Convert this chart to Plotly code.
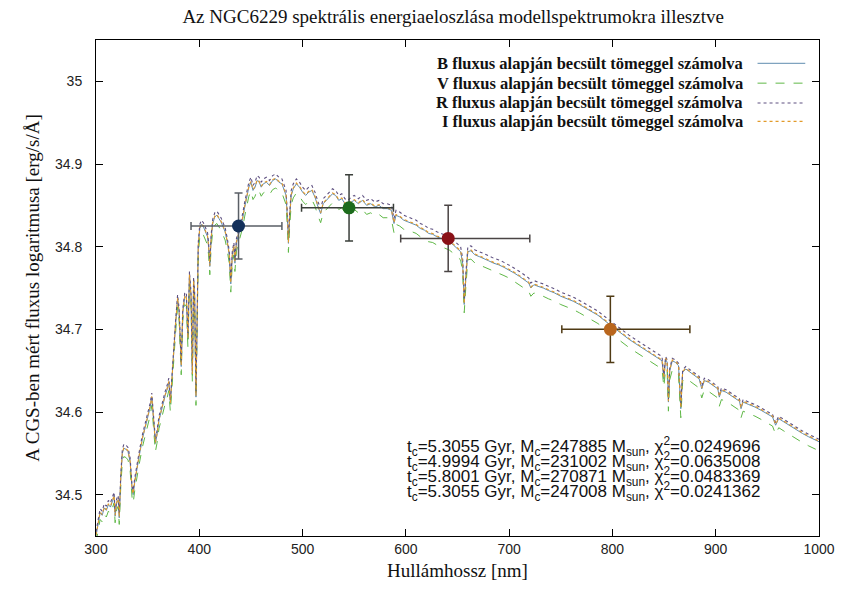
import plotly.graph_objects as go

# Model spectra: wavelength grid [nm] and log flux [erg/s/Å] for the four fitted masses
wavelength = [
    300, 302, 304, 306, 308, 310, 312, 314, 316, 317.5,
    318.5, 320, 321.5, 322.5, 324, 325.5, 327, 329, 331, 333,
    335, 336, 337.5, 340, 342, 345, 347, 349, 351, 352.5,
    354, 355.5, 357.5, 359, 361, 363, 365, 367, 369, 370.5,
    372, 373.5, 375, 377, 379, 380.5, 382.5, 384, 386, 387.5,
    389, 390.5, 392, 393.3, 394.5, 395.5, 396.8, 398, 399, 400.5,
    402, 404, 406, 408, 409, 410.2, 411.5, 413, 415, 417,
    419, 421, 423, 425, 427, 429, 430.5, 432, 433.5, 434.5,
    436, 438, 440, 442, 444, 446, 448, 450, 452, 454,
    456, 458, 460, 462, 465, 468, 471, 474, 477, 480,
    482, 484, 485.5, 486.3, 487.5, 489, 491, 494, 497, 500,
    503, 506, 509, 512, 515, 517.5, 520, 523, 526, 529,
    532, 535, 538, 541, 544, 547, 550, 554, 558, 562,
    566, 570, 574, 578, 582, 586, 588.5, 590.5, 594, 598,
    602, 606, 610, 614, 618, 622, 626, 630, 634, 638,
    642, 646, 650, 653, 655, 656.5, 658, 660, 663, 667,
    671, 675, 680, 685, 690, 695, 700, 705, 710, 715,
    719, 721, 724, 728, 733, 738, 744, 750, 756, 762,
    768, 774, 780, 786, 792, 798, 804, 810, 816, 822,
    828, 834, 840, 845, 848, 849.8, 851.5, 853, 854.2, 855.5,
    858, 861, 864, 866.2, 868, 871, 875, 880, 884, 886.5,
    889, 893, 898, 902, 903.5, 905.5, 910, 915, 920, 923,
    924.5, 926.5, 932, 938, 944, 950, 955, 958, 961, 966,
    972, 978, 984, 990, 995, 1000,
]

flux_B = [
    34.450, 34.462, 34.478, 34.475, 34.484, 34.481, 34.488, 34.485, 34.494, 34.498,
    34.474, 34.490, 34.494, 34.472, 34.520, 34.550, 34.556, 34.555, 34.552, 34.540,
    34.505, 34.500, 34.515, 34.535, 34.548, 34.568, 34.578, 34.586, 34.598, 34.606,
    34.618, 34.596, 34.562, 34.572, 34.590, 34.600, 34.612, 34.620, 34.628, 34.636,
    34.610, 34.640, 34.672, 34.705, 34.737, 34.720, 34.655, 34.720, 34.740, 34.738,
    34.688, 34.765, 34.740, 34.645, 34.758, 34.740, 34.618, 34.760, 34.800, 34.822,
    34.827, 34.824, 34.818, 34.812, 34.800, 34.776, 34.810, 34.828, 34.836, 34.838,
    34.834, 34.830, 34.824, 34.818, 34.806, 34.790, 34.755, 34.790, 34.800, 34.780,
    34.805, 34.815, 34.826, 34.834, 34.848, 34.860, 34.872, 34.878, 34.868, 34.872,
    34.880, 34.878, 34.872, 34.876, 34.878, 34.874, 34.880, 34.882, 34.878, 34.876,
    34.870, 34.862, 34.830, 34.804, 34.835, 34.862, 34.870, 34.876, 34.872, 34.866,
    34.862, 34.866, 34.868, 34.860, 34.848, 34.840, 34.852, 34.856, 34.860, 34.864,
    34.862, 34.856, 34.858, 34.852, 34.850, 34.854, 34.856, 34.852, 34.856, 34.850,
    34.852, 34.848, 34.850, 34.846, 34.846, 34.844, 34.828, 34.838, 34.836, 34.832,
    34.830, 34.828, 34.826, 34.822, 34.820, 34.816, 34.815, 34.812, 34.810, 34.808,
    34.806, 34.802, 34.798, 34.794, 34.780, 34.730, 34.760, 34.794, 34.795, 34.790,
    34.788, 34.786, 34.783, 34.780, 34.778, 34.775, 34.772, 34.768, 34.764, 34.760,
    34.756, 34.750, 34.754, 34.752, 34.750, 34.747, 34.744, 34.740, 34.737, 34.734,
    34.730, 34.726, 34.721, 34.717, 34.711, 34.705, 34.699, 34.693, 34.688, 34.683,
    34.678, 34.674, 34.668, 34.664, 34.662, 34.640, 34.664, 34.660, 34.612, 34.650,
    34.662, 34.660, 34.656, 34.604, 34.648, 34.652, 34.648, 34.644, 34.640, 34.628,
    34.638, 34.636, 34.632, 34.628, 34.618, 34.626, 34.624, 34.620, 34.616, 34.613,
    34.604, 34.612, 34.609, 34.606, 34.602, 34.598, 34.594, 34.584, 34.592, 34.588,
    34.583, 34.579, 34.574, 34.570, 34.567, 34.564,
]

flux_V = [
    34.442, 34.454, 34.470, 34.467, 34.476, 34.473, 34.480, 34.477, 34.486, 34.490,
    34.466, 34.482, 34.486, 34.464, 34.510, 34.540, 34.546, 34.545, 34.542, 34.530,
    34.495, 34.490, 34.505, 34.525, 34.538, 34.558, 34.568, 34.576, 34.588, 34.596,
    34.608, 34.586, 34.552, 34.562, 34.580, 34.590, 34.602, 34.610, 34.618, 34.626,
    34.600, 34.630, 34.662, 34.695, 34.727, 34.710, 34.645, 34.710, 34.730, 34.728,
    34.678, 34.755, 34.730, 34.635, 34.748, 34.730, 34.608, 34.750, 34.790, 34.812,
    34.817, 34.814, 34.808, 34.802, 34.790, 34.766, 34.800, 34.818, 34.826, 34.828,
    34.824, 34.820, 34.814, 34.808, 34.796, 34.780, 34.745, 34.780, 34.790, 34.770,
    34.795, 34.805, 34.816, 34.823, 34.837, 34.849, 34.861, 34.867, 34.857, 34.861,
    34.869, 34.867, 34.861, 34.865, 34.867, 34.863, 34.869, 34.871, 34.867, 34.865,
    34.859, 34.851, 34.819, 34.793, 34.824, 34.851, 34.859, 34.865, 34.861, 34.855,
    34.851, 34.855, 34.857, 34.849, 34.837, 34.829, 34.841, 34.845, 34.849, 34.853,
    34.851, 34.845, 34.847, 34.841, 34.839, 34.843, 34.845, 34.841, 34.845, 34.839,
    34.841, 34.837, 34.839, 34.835, 34.835, 34.833, 34.817, 34.827, 34.825, 34.821,
    34.820, 34.818, 34.816, 34.812, 34.810, 34.806, 34.805, 34.802, 34.800, 34.798,
    34.796, 34.792, 34.788, 34.784, 34.770, 34.720, 34.750, 34.784, 34.785, 34.780,
    34.778, 34.776, 34.773, 34.770, 34.768, 34.765, 34.762, 34.758, 34.754, 34.750,
    34.746, 34.740, 34.744, 34.742, 34.740, 34.737, 34.734, 34.730, 34.727, 34.724,
    34.720, 34.716, 34.711, 34.707, 34.701, 34.695, 34.689, 34.683, 34.678, 34.673,
    34.668, 34.664, 34.658, 34.654, 34.652, 34.630, 34.653, 34.649, 34.601, 34.639,
    34.651, 34.649, 34.645, 34.593, 34.637, 34.641, 34.637, 34.633, 34.629, 34.617,
    34.627, 34.625, 34.621, 34.617, 34.607, 34.615, 34.613, 34.609, 34.605, 34.602,
    34.593, 34.601, 34.598, 34.595, 34.591, 34.587, 34.583, 34.573, 34.581, 34.577,
    34.572, 34.568, 34.563, 34.559, 34.556, 34.553,
]

flux_R = [
    34.455, 34.467, 34.483, 34.480, 34.489, 34.486, 34.493, 34.490, 34.499, 34.503,
    34.479, 34.495, 34.499, 34.477, 34.525, 34.555, 34.561, 34.560, 34.557, 34.545,
    34.510, 34.505, 34.520, 34.540, 34.553, 34.573, 34.583, 34.591, 34.603, 34.611,
    34.623, 34.601, 34.567, 34.577, 34.595, 34.605, 34.617, 34.625, 34.633, 34.641,
    34.615, 34.645, 34.677, 34.710, 34.742, 34.725, 34.660, 34.725, 34.745, 34.743,
    34.693, 34.770, 34.745, 34.650, 34.763, 34.745, 34.623, 34.765, 34.805, 34.827,
    34.832, 34.829, 34.823, 34.817, 34.805, 34.781, 34.815, 34.833, 34.841, 34.843,
    34.839, 34.835, 34.829, 34.823, 34.811, 34.795, 34.760, 34.795, 34.805, 34.785,
    34.810, 34.820, 34.831, 34.840, 34.854, 34.866, 34.878, 34.884, 34.874, 34.878,
    34.886, 34.884, 34.878, 34.882, 34.884, 34.880, 34.886, 34.888, 34.884, 34.882,
    34.876, 34.868, 34.836, 34.810, 34.841, 34.868, 34.876, 34.882, 34.878, 34.872,
    34.868, 34.872, 34.874, 34.866, 34.854, 34.846, 34.858, 34.862, 34.866, 34.870,
    34.868, 34.862, 34.864, 34.858, 34.856, 34.860, 34.862, 34.858, 34.862, 34.856,
    34.858, 34.854, 34.856, 34.852, 34.852, 34.850, 34.834, 34.844, 34.842, 34.838,
    34.836, 34.834, 34.832, 34.828, 34.826, 34.822, 34.821, 34.818, 34.816, 34.814,
    34.812, 34.808, 34.804, 34.800, 34.786, 34.736, 34.766, 34.800, 34.801, 34.796,
    34.794, 34.792, 34.789, 34.786, 34.784, 34.781, 34.778, 34.774, 34.770, 34.766,
    34.762, 34.756, 34.759, 34.757, 34.755, 34.752, 34.749, 34.745, 34.742, 34.739,
    34.735, 34.731, 34.726, 34.722, 34.716, 34.710, 34.704, 34.698, 34.693, 34.688,
    34.683, 34.679, 34.673, 34.669, 34.667, 34.645, 34.667, 34.663, 34.615, 34.653,
    34.665, 34.663, 34.659, 34.607, 34.651, 34.655, 34.651, 34.647, 34.643, 34.631,
    34.641, 34.639, 34.635, 34.631, 34.621, 34.629, 34.627, 34.623, 34.619, 34.616,
    34.607, 34.615, 34.612, 34.609, 34.605, 34.601, 34.597, 34.587, 34.595, 34.591,
    34.586, 34.582, 34.577, 34.573, 34.570, 34.567,
]

flux_I = [
    34.451, 34.463, 34.479, 34.476, 34.485, 34.482, 34.489, 34.486, 34.495, 34.499,
    34.475, 34.491, 34.495, 34.473, 34.521, 34.551, 34.557, 34.556, 34.553, 34.541,
    34.506, 34.501, 34.516, 34.536, 34.549, 34.569, 34.579, 34.587, 34.599, 34.607,
    34.619, 34.597, 34.563, 34.573, 34.591, 34.601, 34.613, 34.621, 34.629, 34.637,
    34.611, 34.641, 34.673, 34.706, 34.738, 34.721, 34.656, 34.721, 34.741, 34.739,
    34.689, 34.766, 34.741, 34.646, 34.759, 34.741, 34.619, 34.761, 34.801, 34.823,
    34.828, 34.825, 34.819, 34.813, 34.801, 34.777, 34.811, 34.829, 34.837, 34.839,
    34.835, 34.831, 34.825, 34.819, 34.807, 34.791, 34.756, 34.791, 34.801, 34.781,
    34.806, 34.816, 34.827, 34.835, 34.849, 34.861, 34.873, 34.879, 34.869, 34.873,
    34.881, 34.879, 34.873, 34.877, 34.879, 34.875, 34.881, 34.883, 34.879, 34.877,
    34.871, 34.863, 34.831, 34.805, 34.836, 34.863, 34.871, 34.877, 34.873, 34.867,
    34.863, 34.867, 34.869, 34.861, 34.849, 34.841, 34.853, 34.857, 34.861, 34.865,
    34.863, 34.857, 34.859, 34.853, 34.851, 34.855, 34.857, 34.853, 34.857, 34.851,
    34.853, 34.849, 34.851, 34.847, 34.847, 34.845, 34.829, 34.839, 34.837, 34.833,
    34.831, 34.829, 34.827, 34.823, 34.821, 34.817, 34.816, 34.813, 34.811, 34.809,
    34.807, 34.803, 34.799, 34.795, 34.781, 34.731, 34.761, 34.795, 34.796, 34.791,
    34.789, 34.787, 34.784, 34.781, 34.779, 34.776, 34.773, 34.769, 34.765, 34.761,
    34.757, 34.751, 34.755, 34.753, 34.751, 34.748, 34.745, 34.741, 34.738, 34.735,
    34.731, 34.727, 34.722, 34.718, 34.712, 34.706, 34.700, 34.694, 34.689, 34.684,
    34.679, 34.675, 34.669, 34.665, 34.663, 34.641, 34.665, 34.661, 34.613, 34.651,
    34.663, 34.661, 34.657, 34.605, 34.649, 34.653, 34.649, 34.645, 34.641, 34.629,
    34.639, 34.637, 34.633, 34.629, 34.619, 34.627, 34.625, 34.621, 34.617, 34.614,
    34.605, 34.613, 34.610, 34.607, 34.603, 34.599, 34.595, 34.585, 34.593, 34.589,
    34.584, 34.580, 34.575, 34.571, 34.568, 34.565,
]

# Measured photometric points (BVRI) with filter widths and flux errors
band_wl = [438, 545, 641, 798]
band_flux = [34.825, 34.847, 34.810, 34.700]
band_flux_err = [0.040, 0.040, 0.040, 0.040]
band_wl_minus = [46, 46, 46, 47]
band_wl_plus = [42, 43, 79, 77]

legend_labels = [
    "B fluxus alapján becsült tömeggel számolva",
    "V fluxus alapján becsült tömeggel számolva",
    "R fluxus alapján becsült tömeggel számolva",
    "I fluxus alapján becsült tömeggel számolva",
]

fit_labels = [
    "t<sub>c</sub>=5.3055 Gyr, M<sub>c</sub>=247885 M<sub>sun</sub>, χ<sup>2</sup>=0.0249696",
    "t<sub>c</sub>=4.9994 Gyr, M<sub>c</sub>=231002 M<sub>sun</sub>, χ<sup>2</sup>=0.0635008",
    "t<sub>c</sub>=5.8001 Gyr, M<sub>c</sub>=270871 M<sub>sun</sub>, χ<sup>2</sup>=0.0483369",
    "t<sub>c</sub>=5.3055 Gyr, M<sub>c</sub>=247008 M<sub>sun</sub>, χ<sup>2</sup>=0.0241362",
]

x_ticks = [300, 400, 500, 600, 700, 800, 900, 1000]
y_ticks = [34.5, 34.6, 34.7, 34.8, 34.9, 35]

line_styles = [
    dict(color="#5f8db0", dash="solid", width=1),
    dict(color="#5fb846", dash="dash", width=1),
    dict(color="#5e5080", dash="dot", width=1.1),
    dict(color="#e29a2a", dash="dot", width=1.1),
]
point_colors = ["#13305a", "#1c6b1c", "#8a1117", "#b9661d"]
bar_colors = ["#5a5f66", "#3a3f3a", "#4a4444", "#4f3a14"]

serif = "Liberation Serif"
sans = "Liberation Sans"

fig = go.Figure()

for flux, style, name in zip([flux_B, flux_V, flux_R, flux_I], line_styles, legend_labels):
    fig.add_trace(go.Scatter(x=wavelength, y=flux, mode="lines", line=style,
                             name=name, showlegend=False))

for i in range(len(band_wl)):
    fig.add_trace(go.Scatter(
        x=[band_wl[i]], y=[band_flux[i]], mode="markers",
        marker=dict(size=13, color=point_colors[i]),
        error_x=dict(type="data", symmetric=False, array=[band_wl_plus[i]],
                     arrayminus=[band_wl_minus[i]], color=bar_colors[i],
                     thickness=1.5, width=4),
        error_y=dict(type="data", array=[band_flux_err[i]], color=bar_colors[i],
                     thickness=1.5, width=4),
        showlegend=False,
    ))

annotations = []
shapes = []
legend_rows_y = [0.953, 0.913, 0.873, 0.836]
for label, style, yy in zip(legend_labels, line_styles, legend_rows_y):
    annotations.append(dict(xref="paper", yref="paper", x=0.898, y=yy,
                            text="<b>" + label + "</b>",
                            showarrow=False, xanchor="right", yanchor="middle",
                            font=dict(family=serif, size=16.5, color="#111111")))
    shapes.append(dict(type="line", xref="paper", yref="paper", x0=0.915, x1=0.981,
                       y0=yy, y1=yy, line=style))

fit_rows_y = [0.181, 0.151, 0.1205, 0.0905]
for label, yy in zip(fit_labels, fit_rows_y):
    annotations.append(dict(xref="paper", yref="paper", x=0.428, y=yy, text=label,
                            showarrow=False, xanchor="left", yanchor="middle",
                            font=dict(family=sans, size=17, color="#111111")))

axis_common = dict(showline=True, linecolor="black", linewidth=1, mirror="ticks",
                   ticks="inside", ticklen=7, tickcolor="black", showgrid=False,
                   zeroline=False, tickfont=dict(family=sans, size=14, color="#222222"))

fig.update_layout(
    width=847, height=589,
    margin=dict(l=96, r=25, t=40, b=51),
    paper_bgcolor="white", plot_bgcolor="white",
    title=dict(text="Az NGC6229 spektrális energiaeloszlása modellspektrumokra illesztve",
               x=0.535, xanchor="center", y=0.973, yanchor="middle",
               font=dict(family=serif, size=19, color="#111111")),
    xaxis=dict(range=[300, 1000], tickvals=x_ticks, ticktext=[str(v) for v in x_ticks],
               title=dict(text="Hullámhossz [nm]", standoff=7,
                          font=dict(family=serif, size=19, color="#111111")),
               **axis_common),
    yaxis=dict(range=[34.45, 35.05], tickvals=y_ticks, ticktext=[str(v) for v in y_ticks],
               ticklabelstandoff=10,
               title=dict(text="A CGS-ben mért fluxus logaritmusa [erg/s/Å]", standoff=10,
                          font=dict(family=serif, size=19, color="#111111")),
               **axis_common),
    annotations=annotations,
    shapes=shapes,
)

fig.write_html("out.html")
